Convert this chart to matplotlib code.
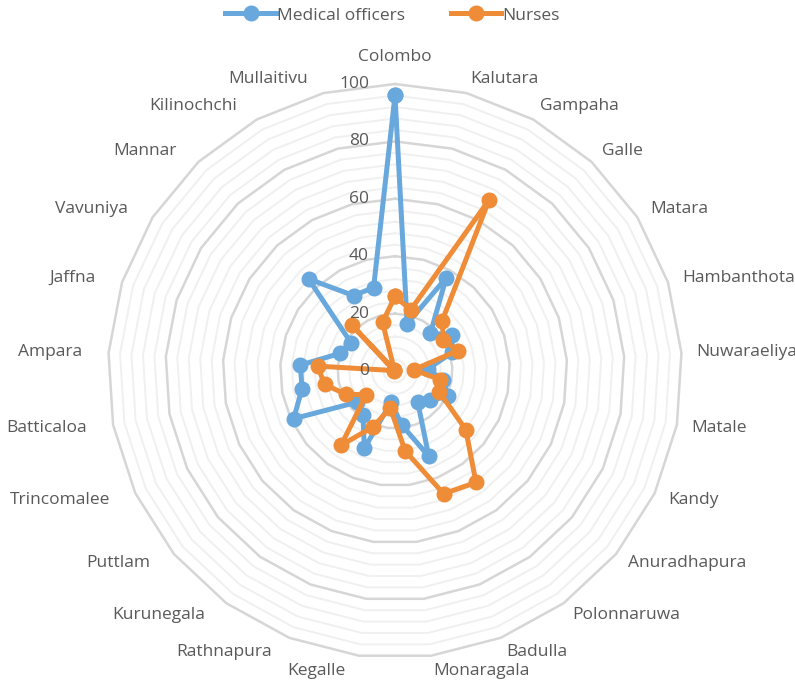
import numpy as np
import matplotlib.pyplot as plt
import matplotlib.transforms as mtransforms

plt.rcParams['font.family'] = ['Open Sans', 'DejaVu Sans']

districts = ['Colombo', 'Kalutara', 'Gampaha', 'Galle', 'Matara', 'Hambanthota',
             'Nuwaraeliya', 'Matale', 'Kandy', 'Anuradhapura', 'Polonnaruwa',
             'Badulla', 'Monaragala', 'Kegalle', 'Rathnapura', 'Kurunegala',
             'Puttlam', 'Trincomalee', 'Batticaloa', 'Ampara', 'Jaffna',
             'Vavuniya', 'Mannar', 'Kilinochchi', 'Mullaitivu']
medical_officers = [96, 17, 37, 18, 23.5, 21, 11.5, 17, 20.5, 16, 13.5, 32, 19,
                    11, 29, 19, 17, 39, 33, 33, 20, 18, 44, 30, 30]
nurses = [26, 22, 68, 24, 20, 23, 6.5, 16, 17, 32, 48, 46, 28, 13, 21, 32, 13,
          19, 25, 27, 0.5, 0.5, 22, 0.5, 17.5]
r_ticks = [0, 20, 40, 60, 80, 100]

blue = '#68A8DC'
orange = '#EF8C38'
text_col = '#595959'

n = len(districts)
theta = np.linspace(0, 2 * np.pi, n, endpoint=False)
theta_c = np.append(theta, theta[0])

fig = plt.figure(figsize=(7.95, 6.86), dpi=100)
ax = fig.add_axes([108 / 795, 28 / 686, 574 / 795, 574 / 686], projection='polar')
ax.set_theta_zero_location('N')
ax.set_theta_direction(-1)
ax.set_ylim(0, 100)
ax.grid(False)
ax.spines['polar'].set_visible(False)
ax.set_xticks([])
ax.set_yticks([])
ax.patch.set_alpha(0)

# polygon grid, minor every 4, major every 20
for r in range(4, 101, 4):
    major = r % 20 == 0
    ax.plot(theta_c, [r] * (n + 1), color='#D6D6D6' if major else '#F0F0F0',
            lw=1.8 if major else 1.4, zorder=1, clip_on=False)

ax.plot(theta_c, medical_officers + medical_officers[:1], color=blue, lw=3.6,
        marker='o', ms=10.5, label='Medical officers', zorder=3, clip_on=False)
ax.plot(theta_c, nurses + nurses[:1], color=orange, lw=3.6,
        marker='o', ms=10.5, label='Nurses', zorder=4, clip_on=False)

# radial tick labels left of the first spoke
off = mtransforms.offset_copy(ax.transData, fig=fig, x=-26, y=0, units='dots')
for r in r_ticks:
    ax.text(0, r, str(r), transform=off, ha='right', va='center',
            fontsize=12.5, color=text_col, zorder=5)

left_off = mtransforms.offset_copy(ax.transData, fig=fig, x=-12, y=0, units='dots')
for i, name in enumerate(districts):
    if i == 0:
        ax.text(theta[i], 109.5, name, ha='center', va='center', fontsize=12.5, color=text_col)
    elif i <= 12:
        ax.text(theta[i], 105.2, name, ha='left', va='center', fontsize=12.5, color=text_col)
    else:
        ax.text(theta[i], 105.2, name, transform=left_off, ha='right', va='center',
                fontsize=12.5, color=text_col)

leg = fig.legend(loc='upper center', bbox_to_anchor=(0.494, 1.012), ncol=2, frameon=False,
                 handlelength=2.9, handletextpad=0.1, columnspacing=2.6, fontsize=12.5)
for t in leg.get_texts():
    t.set_color(text_col)

fig.savefig('out.png', dpi=100)
